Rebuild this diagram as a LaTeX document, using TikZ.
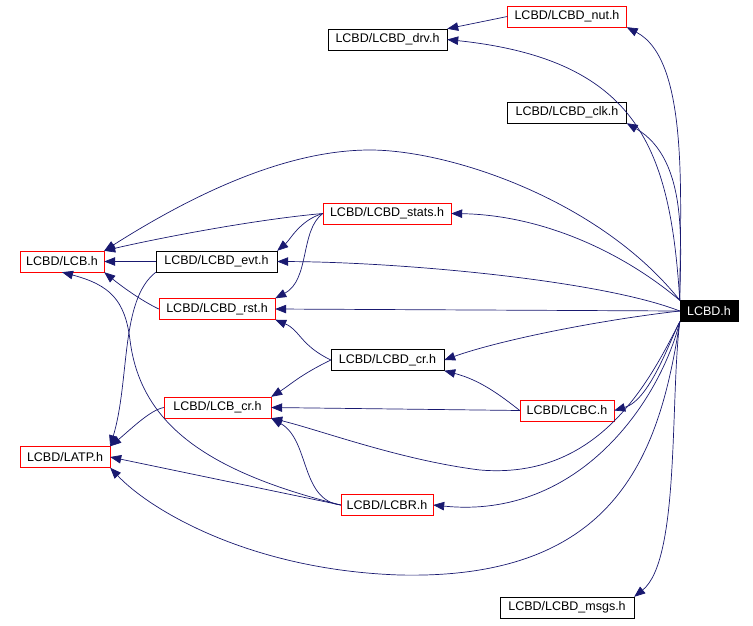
\documentclass[tikz,border=0pt]{standalone}
\usepackage{fontspec}
\setmainfont{Liberation Sans}
\usetikzlibrary{arrows.meta}
\definecolor{edge}{RGB}{25,25,112}
\begin{document}
\begin{tikzpicture}[x=1pt,y=-1pt,
  box/.style={draw=black,fill=white,inner sep=0pt,minimum height=21pt,font=\fontsize{12.5}{14}\selectfont},
  red/.style={box,draw=red},
  e/.style={draw=edge,line width=0.7pt,-{Triangle[length=11pt,width=8.5pt,fill=edge]}}]
\useasboundingbox (0,0) rectangle (753,625);
\node[red,minimum width=119pt] (nut) at (567,16.5) {LCBD/LCBD\_nut.h};
\node[box,minimum width=119pt] (drv) at (387.5,39.5) {LCBD/LCBD\_drv.h};
\node[box,minimum width=119pt] (clk) at (567,112.5) {LCBD/LCBD\_clk.h};
\node[red,minimum width=128pt] (stats) at (387,213.5) {LCBD/LCBD\_stats.h};
\node[red,minimum width=84pt] (lcb) at (62,261.5) {LCBD/LCB.h};
\node[box,minimum width=121pt] (evt) at (216.5,261.5) {LCBD/LCBD\_evt.h};
\node[red,minimum width=116pt] (rst) at (217,309) {LCBD/LCBD\_rst.h};
\node[box,minimum width=113pt] (cr) at (387.5,360) {LCBD/LCBD\_cr.h};
\node[red,minimum width=94pt] (lcbc) at (567,410.5) {LCBD/LCBC.h};
\node[red,minimum width=107pt] (lcbcr) at (217.5,407.5) {LCBD/LCB\_cr.h};
\node[red,minimum width=90pt] (latp) at (65,457) {LCBD/LATP.h};
\node[red,minimum width=92pt] (lcbr) at (387,505) {LCBD/LCBR.h};
\node[box,minimum width=134pt] (msgs) at (567,607.5) {LCBD/LCBD\_msgs.h};
\node[box,fill=black,text=white,minimum width=58pt] (main) at (709,311) {LCBD.h};

\draw[e] (nut.west) -- (drv.north east);
\draw[e] (main.north west) .. controls (680,200) and (690,60) .. (nut.south east);
\draw[e] (main.north west) .. controls (670,150) and (640,60) .. (drv.east);
\draw[e] (main.north west) .. controls (680,250) and (690,160) .. (clk.south east);
\draw[e] (main.north west) .. controls (600,200) and (450,150) .. (370,150) .. controls (290,150) and (200,190) .. (lcb.north east);
\draw[e] (main.north west) .. controls (620,250) and (540,215) .. (stats.east);
\draw[e] (main.west) .. controls (600,280) and (400,262) .. (evt.east);
\draw[e] (main.west) -- (rst.east);
\draw[e] (main.west) .. controls (600,320) and (500,340) .. (cr.east);
\draw[e] (main.south west) .. controls (670,340) and (650,400) .. (lcbc.east);
\draw[e] (main.south west) .. controls (650,380) and (600,480) .. (480,470) .. controls (400,460) and (320,430) .. (lcbcr.south east);
\draw[e] (main.south west) .. controls (660,400) and (580,520) .. (lcbr.east);
\draw[e] (main.south west) .. controls (660,450) and (620,580) .. (400,575) .. controls (250,570) and (150,510) .. (latp.south east);
\draw[e] (main.south west) .. controls (670,400) and (680,560) .. (msgs.north east);
\draw[e] (stats.west) .. controls (250,220) and (150,240) .. (lcb.north east);
\draw[e] (stats.west) .. controls (300,220) and (290,240) .. (evt.north east);
\draw[e] (stats.west) .. controls (300,230) and (310,280) .. (rst.north east);
\draw[e] (evt.west) -- (lcb.east);
\draw[e] (rst.west) .. controls (140,300) and (120,285) .. (lcb.south east);
\draw[e] (evt.south west) .. controls (120,300) and (130,380) .. (latp.north east);
\draw[e] (lcbr.west) .. controls (200,470) and (140,420) .. (130,340) .. controls (125,300) and (110,285) .. (lcb.south);
\draw[e] (cr.west) .. controls (300,345) and (300,330) .. (rst.south east);
\draw[e] (cr.west) .. controls (300,375) and (290,385) .. (lcbcr.north east);
\draw[e] (lcbc.west) .. controls (500,395) and (480,380) .. (cr.south east);
\draw[e] (lcbc.west) -- (lcbcr.east);
\draw[e] (lcbcr.west) .. controls (150,410) and (130,430) .. (latp.north east);
\draw[e] (lcbr.west) .. controls (300,500) and (310,440) .. (lcbcr.south east);
\draw[e] (lcbr.west) -- (latp.east);
\end{tikzpicture}
\end{document}
